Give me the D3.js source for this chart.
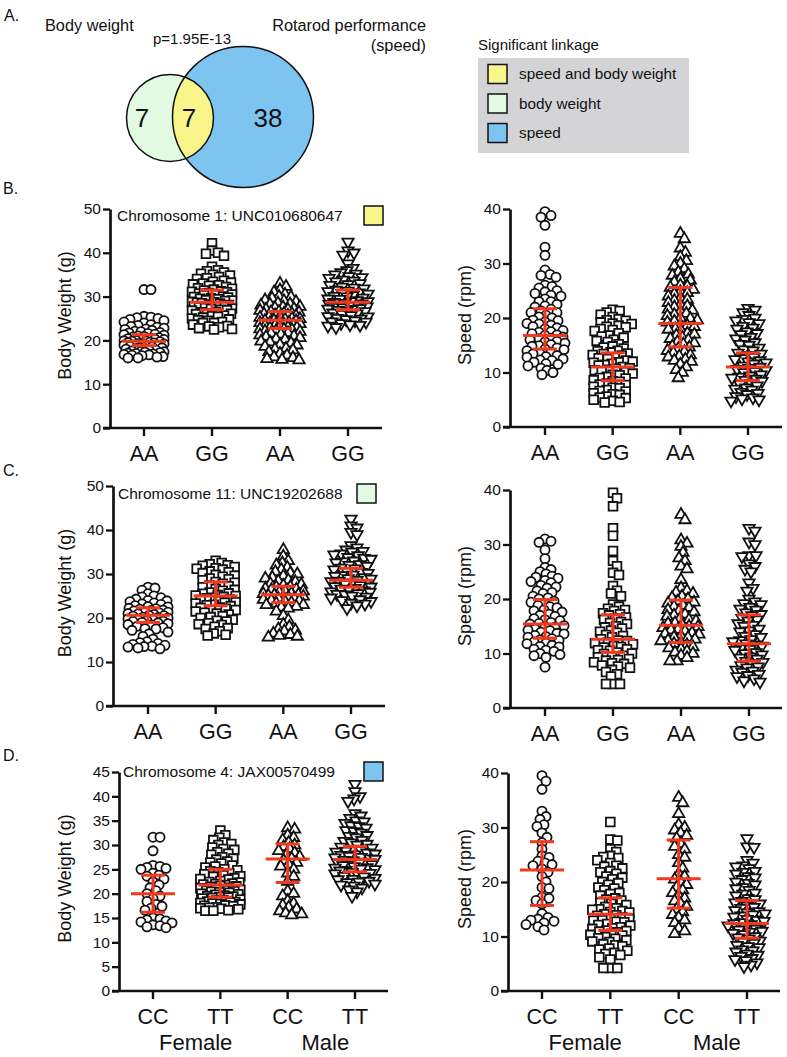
<!DOCTYPE html>
<html><head><meta charset="utf-8">
<script src="https://cdn.jsdelivr.net/npm/d3@7"></script>
<style>body{margin:0;background:#fff}svg{display:block}text{font-family:"Liberation Sans",Arial,sans-serif;fill:#111}</style>
</head><body>
<svg id="fig" width="787" height="1057"></svg>
<script>
// ---------- Venn / legend data ----------
const vennCounts = [7, 7, 38]; // body weight only, both, speed only
const legendLabels = ["speed and body weight", "body weight", "speed"];
const legendColors = ["#f8f68a", "#e2fae2", "#7dc4f1"];

// ---------- category labels ----------
const genoB = ["AA", "GG", "AA", "GG"];
const genoC = ["AA", "GG", "AA", "GG"];
const genoD = ["CC", "TT", "CC", "TT"];
const sexLabels = ["Female", "Male"];
const markerShapes = ["circle", "square", "triangle", "triangleDown"];

// ---------- B: Chromosome 1 ----------
const bW_AA_F = [31.6,31.6,25.5,25.3,25.2,24.8,24.5,24.0,23.6,23.2,23.0,22.8,22.5,22.3,22.0,21.8,21.6,21.4,21.2,21.0,20.8,20.6,20.5,20.3,20.1,20.0,19.9,19.8,19.7,19.6,19.5,19.3,19.2,19.0,18.9,18.8,18.6,18.5,18.3,18.2,18.0,17.8,17.6,17.5,17.3,17.1,17.0,16.9,16.8,16.6,16.5,16.3,16.2,16.0,16.0,
  23.4,22.6,22.1,21.7,21.3,20.9,20.4,20.2,19.9,19.4,19.1,18.7,18.4,18.1,17.7,17.4,17.2,16.7,25.0,24.2];
const bW_GG_F = [42.2,40.5,40.0,39.8,39.3,36.8,36.0,35.5,35.2,34.8,34.5,34.0,33.6,33.2,32.8,32.5,32.2,31.9,31.6,31.4,31.2,31.0,30.7,30.5,30.3,30.0,29.8,29.6,29.4,29.2,29.0,28.8,28.7,28.6,28.4,28.2,28.0,27.8,27.6,27.4,27.2,27.0,26.8,26.5,26.2,26.0,25.7,25.4,25.0,24.8,24.5,24.2,24.0,23.6,23.3,23.0,22.8,22.6,22.5,
  35.8,35.0,34.2,33.4,32.6,31.8,31.1,30.4,29.9,29.5,29.1,28.5,28.1,27.7,27.3,26.9,26.4,26.1,25.5,25.2,24.6,24.0,23.2,33.0,30.8];
const bW_AA_M = [33.0,32.3,31.5,31.0,30.5,30.0,29.6,29.2,28.8,28.5,28.2,28.0,27.7,27.4,27.2,27.0,26.8,26.6,26.4,26.2,26.0,25.8,25.6,25.4,25.2,25.0,24.8,24.6,24.5,24.3,24.1,24.0,23.8,23.6,23.4,23.2,23.0,22.8,22.6,22.4,22.2,22.0,21.7,21.4,21.0,20.6,20.2,19.8,19.4,19.0,18.6,18.2,17.8,17.4,17.0,16.6,16.2,15.8,15.6,15.5,
  29.9,29.0,28.3,27.6,27.1,26.5,26.1,25.7,25.3,24.9,24.4,24.0,23.7,23.3,22.9,22.5,22.1,21.6,21.2,20.8,20.3,19.6,18.9,18.0,16.0];
const bW_GG_M = [42.5,40.5,40.0,39.5,37.5,36.5,36.0,35.5,35.0,34.6,34.2,33.8,33.4,33.0,32.6,32.2,31.8,31.5,31.2,30.9,30.6,30.3,30.0,29.7,29.4,29.1,28.9,28.7,28.5,28.3,28.1,27.9,27.7,27.5,27.3,27.1,26.9,26.6,26.3,26.0,25.7,25.4,25.1,24.8,24.5,24.2,23.9,23.6,23.3,23.0,
  35.2,34.4,33.6,32.8,32.0,31.3,30.8,30.1,29.5,28.9,28.4,28.0,27.6,27.2,26.7,26.1,25.5,24.9,24.3,23.5];
const bW_summary = [[19.8,18.8,21.3],[28.7,27.0,31.5],[24.6,22.7,26.6],[28.7,27.0,31.5]]; // [center, low, high]

const bS_AA_F = [39.5,38.5,38.8,37.0,33.0,31.5,28.8,28.0,27.5,27.8,26.0,25.8,25.5,25.0,24.8,24.5,24.0,23.5,23.0,22.5,22.0,21.6,21.3,21.0,20.5,20.0,19.6,19.3,19.0,18.7,18.4,18.0,17.7,17.4,17.1,16.8,16.5,16.2,16.0,15.7,15.4,15.1,14.8,14.5,14.2,14.0,13.7,13.4,13.1,12.8,12.5,12.2,11.9,11.5,11.2,10.8,10.4,10.0,9.6,
  24.2,23.0,22.2,21.0,20.2,19.5,18.9,18.2,17.5,16.9,16.3,15.6,14.9,14.3,13.5,12.9,12.3,11.6];
const bS_GG_F = [21.5,21.3,21.0,20.6,20.2,19.8,19.5,19.2,18.9,18.6,18.3,18.0,17.6,17.2,16.8,16.4,16.0,15.6,15.2,14.8,14.4,14.0,13.7,13.4,13.1,12.8,12.5,12.2,11.9,11.6,11.3,11.0,10.7,10.4,10.1,9.8,9.5,9.2,8.9,8.6,8.3,8.0,7.7,7.4,7.1,6.8,6.5,6.2,5.9,5.6,5.3,5.0,4.8,4.6,4.5,
  19.6,19.0,18.4,17.8,16.6,15.8,14.6,13.9,13.2,12.6,12.0,11.4,10.8,10.2,9.6,9.0,8.4,7.8,7.2,6.6,6.0,5.4,10.5,11.8,13.5];
const bS_AA_M = [35.5,34.5,32.8,32.0,31.2,30.5,30.0,29.5,29.0,28.4,27.8,27.2,26.6,26.0,25.6,25.2,24.8,24.4,24.0,23.6,23.2,22.8,22.4,22.0,21.6,21.2,20.8,20.4,20.0,19.6,19.2,18.8,18.4,18.0,17.6,17.2,16.8,16.4,16.0,15.6,15.2,14.8,14.4,14.0,13.6,13.2,12.8,12.4,12.0,11.5,11.0,10.5,10.0,9.0,
  28.0,26.9,25.8,24.6,23.4,22.2,21.4,20.6,19.9,19.4,18.6,17.9,17.0,16.2,15.4,14.6,13.8,13.0,12.2];
const bS_GG_M = [21.8,21.5,21.0,20.5,20.0,19.5,19.0,18.5,18.0,17.5,17.0,16.5,16.0,15.5,15.0,14.5,14.0,13.6,13.2,12.8,12.4,12.0,11.6,11.2,10.8,10.4,10.0,9.6,9.2,8.8,8.4,8.0,7.6,7.2,6.8,6.4,6.0,5.6,5.2,5.0,4.8,
  19.8,19.2,18.2,17.2,16.2,15.2,14.2,13.4,12.6,11.8,11.0,10.2,9.4,8.6,7.8,7.0,6.2,5.4,12.2,10.6,9.0];
const bS_summary = [[16.8,14.3,21.7],[11.0,8.5,13.6],[19.0,14.7,25.6],[11.0,8.5,13.6]];

// ---------- C: Chromosome 11 ----------
const cW_AA_F = [27.0,26.8,26.3,25.5,25.0,24.6,24.3,24.0,23.7,23.4,23.1,22.8,22.5,22.2,22.0,21.8,21.6,21.4,21.2,21.0,20.8,20.6,20.4,20.2,20.0,19.8,19.6,19.4,19.2,19.0,18.7,18.4,18.1,17.8,17.5,17.2,16.8,16.4,15.8,15.2,14.6,14.4,14.2,13.8,13.6,13.4,13.2,13.0,
  24.8,23.9,23.2,22.6,22.1,21.7,21.3,20.9,20.5,20.1,19.7,19.3,18.9,18.5,17.6,14.0,13.5];
const cW_GG_F = [33.0,32.5,32.2,31.9,31.6,31.3,31.0,30.6,30.2,29.8,29.4,29.0,28.6,28.2,27.8,27.4,27.0,26.6,26.2,25.8,25.5,25.2,25.0,24.8,24.5,24.2,23.9,23.6,23.3,23.0,22.7,22.4,22.1,21.8,21.5,21.2,20.8,20.4,20.0,19.6,19.2,18.8,18.4,18.0,17.5,17.0,16.5,16.0,
  32.0,31.2,30.4,29.6,28.8,28.0,27.2,26.4,25.6,25.1,24.6,24.1,23.5,22.9,22.3,21.7,21.0,20.2,19.4,18.6,17.7,16.2];
const cW_AA_M = [35.5,34.0,33.0,32.5,32.0,31.5,31.0,30.5,30.0,29.5,29.0,28.6,28.2,27.8,27.4,27.0,26.7,26.4,26.1,25.8,25.5,25.3,25.1,24.9,24.7,24.5,24.2,23.9,23.6,23.3,23.0,22.6,22.2,21.5,20.5,19.5,18.5,18.0,17.5,17.0,16.5,16.0,15.8,15.6,
  30.2,29.2,28.4,27.6,27.1,26.5,26.0,25.6,25.2,24.8,24.4,24.0,23.5,23.0,22.4,17.2,16.2];
const cW_GG_M = [42.5,41.0,40.5,39.5,39.0,36.5,36.0,35.5,35.0,34.6,34.2,33.8,33.4,33.0,32.6,32.2,31.8,31.4,31.0,30.6,30.2,29.8,29.5,29.2,28.9,28.6,28.3,28.0,27.7,27.4,27.1,26.8,26.5,26.2,25.9,25.6,25.3,25.0,24.6,24.2,23.8,23.4,22.8,22.2,
  35.2,34.4,33.6,32.8,32.0,31.2,30.4,29.7,29.0,28.4,27.8,27.2,26.6,26.0,25.4,24.8,24.0,23.2];
const cW_summary = [[20.6,19.0,22.3],[25.0,22.8,28.2],[25.3,23.5,27.2],[28.6,27.0,31.3]];

const cS_AA_F = [31.0,30.6,30.4,29.0,27.4,25.8,25.4,25.0,24.6,24.2,23.8,23.4,23.0,22.5,22.0,21.5,21.0,20.5,20.0,19.6,19.2,18.8,18.4,18.0,17.6,17.2,16.8,16.4,16.0,15.7,15.4,15.1,14.8,14.5,14.2,13.9,13.6,13.3,13.0,12.7,12.4,12.1,11.8,11.5,11.2,10.8,10.4,10.0,9.6,9.3,7.5,
  24.0,23.2,22.2,21.2,20.2,19.4,18.6,17.8,17.0,16.2,15.5,14.9,14.3,13.7,13.1,12.5,11.9,11.3,10.6,9.8];
const cS_GG_F = [39.5,38.5,37.0,33.0,31.6,28.8,27.0,26.0,24.8,24.4,22.4,21.5,21.0,20.5,19.0,18.6,18.2,17.8,17.4,17.0,16.6,16.2,15.8,15.4,15.0,14.6,14.2,13.8,13.4,13.0,12.6,12.3,12.0,11.7,11.4,11.1,10.8,10.5,10.2,9.9,9.6,9.3,9.0,8.7,8.4,8.1,7.8,7.4,7.0,6.6,6.2,5.8,4.4,4.4,4.4,
  18.0,17.2,16.4,15.6,14.8,14.0,13.2,12.4,11.9,11.2,10.6,10.0,9.4,8.8,8.2,7.6];
const cS_AA_M = [35.5,34.5,30.8,30.2,29.6,28.5,27.5,27.0,26.0,25.5,23.5,22.0,21.5,21.0,20.5,20.0,19.6,19.2,18.8,18.4,18.0,17.6,17.2,16.8,16.4,16.0,15.6,15.3,15.0,14.7,14.4,14.1,13.8,13.5,13.2,12.9,12.6,12.3,12.0,11.6,11.2,10.8,10.4,10.0,9.6,9.2,8.6,8.6,
  21.2,20.2,19.4,18.6,17.8,17.0,16.2,15.5,14.9,14.3,13.6,13.0,12.4,11.8,11.0,10.2];
const cS_GG_M = [33.0,32.5,30.5,30.0,28.0,28.0,27.8,26.5,26.0,25.5,25.0,23.0,22.0,21.5,20.0,19.5,19.0,18.5,18.0,17.5,17.0,16.5,16.0,15.5,15.0,14.5,14.0,13.5,13.0,12.6,12.2,11.8,11.4,11.0,10.6,10.2,9.8,9.4,9.0,8.6,8.2,7.8,7.4,7.0,6.6,6.2,5.8,5.4,5.0,4.8,
  19.2,18.2,17.2,16.2,15.2,14.2,13.2,12.4,11.6,10.8,10.0,9.2,8.4,7.6,6.8,6.0];
const cS_summary = [[15.4,12.8,19.9],[12.6,10.2,17.1],[15.2,12.0,19.8],[11.8,8.6,17.1]];

// ---------- D: Chromosome 4 ----------
const dW_CC_F = [31.6,31.6,28.8,25.8,25.6,25.4,25.2,25.0,24.2,23.8,23.6,23.0,22.4,21.8,21.2,20.6,20.0,19.5,19.0,18.4,17.8,17.4,17.0,16.6,15.0,14.8,14.6,14.4,14.2,14.0,13.6,13.4,13.2,13.0];
const dW_TT_F = [33.0,32.0,31.5,31.0,30.5,30.0,29.5,29.0,28.5,28.0,27.5,27.0,26.6,26.2,25.8,25.4,25.0,24.6,24.2,23.8,23.5,23.2,22.9,22.6,22.3,22.0,21.8,21.6,21.4,21.2,21.0,20.8,20.6,20.4,20.2,20.0,19.8,19.6,19.4,19.2,19.0,18.8,18.6,18.4,18.2,18.0,17.8,17.6,17.4,17.2,17.0,16.8,16.6,16.5,16.5,
  30.2,29.2,28.2,27.2,26.4,25.6,24.8,24.4,24.0,23.6,23.0,22.4,21.9,21.5,21.1,20.7,20.3,19.9,19.5,19.1,18.7,18.3,17.9,17.5,17.1,16.9,22.1,20.5,19.3,18.1];
const dW_CC_M = [33.5,33.2,32.0,31.5,31.0,30.5,30.0,29.6,29.2,28.8,28.4,28.0,27.6,27.2,26.8,26.4,26.0,25.6,25.0,24.2,23.5,22.5,20.5,20.0,19.5,18.5,18.0,17.6,17.2,16.8,16.4,16.0,15.8,15.6];
const dW_TT_M = [42.5,41.0,40.0,39.5,39.0,36.5,36.0,35.5,35.0,34.5,34.0,33.5,33.0,32.5,32.0,31.5,31.0,30.5,30.0,29.6,29.2,28.8,28.4,28.0,27.7,27.4,27.1,26.8,26.5,26.2,25.9,25.6,25.3,25.0,24.7,24.4,24.1,23.8,23.5,23.2,22.9,22.6,22.3,22.0,21.6,21.2,20.8,20.4,19.5,
  34.8,33.8,32.8,31.8,30.8,30.2,29.4,28.6,28.2,27.5,27.2,26.9,26.3,26.0,25.4,24.8,24.2,23.6,23.0,22.4,21.8,28.9,27.9,25.1,25.8];
const dW_summary = [[20.0,16.2,23.8],[21.8,19.3,25.0],[27.1,22.3,30.2],[27.0,24.5,29.7]];

const dS_CC_F = [39.5,38.5,37.0,33.0,32.0,31.5,30.2,30.5,29.0,28.2,27.2,26.0,24.8,24.5,23.8,23.5,23.2,23.0,22.4,21.8,21.0,20.0,19.0,18.8,17.2,17.0,16.6,16.0,14.2,13.5,13.2,13.0,12.8,12.5,12.2,11.8,11.2];
const dS_TT_F = [31.0,27.8,27.6,26.0,25.5,24.8,24.4,24.0,23.5,23.0,22.5,22.0,21.5,21.0,20.5,20.0,19.5,19.0,18.5,18.0,17.5,17.0,16.6,16.2,15.8,15.4,15.0,14.7,14.4,14.1,13.8,13.5,13.2,12.9,12.6,12.3,12.0,11.7,11.4,11.1,10.8,10.5,10.2,9.9,9.6,9.3,9.0,8.6,8.2,7.8,7.4,7.0,6.6,6.2,5.8,4.2,4.2,4.2,
  24.6,22.8,21.8,20.8,19.8,18.8,17.8,16.8,16.0,15.2,14.5,13.9,13.3,12.7,12.1,11.5,10.9,10.3,9.7,9.1,8.4,7.6,6.8,14.9,13.0,11.0];
const dS_CC_M = [35.5,34.5,32.5,30.5,30.0,29.5,29.0,28.5,28.0,27.0,26.5,26.0,25.0,24.5,23.5,22.5,21.5,21.0,20.5,20.0,19.5,19.0,18.5,18.0,17.5,17.0,16.5,16.0,15.5,15.0,14.5,14.0,13.5,13.0,12.5,11.5,11.0,10.5];
const dS_TT_M = [28.0,26.5,26.4,24.0,23.5,23.0,22.5,22.0,21.5,21.0,20.5,20.0,19.5,19.0,18.5,18.0,17.5,17.0,16.5,16.0,15.6,15.2,14.8,14.4,14.0,13.6,13.2,12.8,12.4,12.0,11.6,11.2,10.8,10.4,10.0,9.6,9.2,8.8,8.4,8.0,7.6,7.2,6.8,6.4,6.0,5.6,5.2,4.8,4.5,
  22.8,21.8,20.8,19.8,18.8,17.8,16.8,16.2,15.4,14.6,13.8,13.0,12.2,11.4,10.6,9.8,9.0,8.2,7.4,6.6,5.8,14.2,12.6,11.0];
const dS_summary = [[22.2,15.7,27.4],[14.1,11.1,17.1],[20.6,15.2,27.7],[12.4,9.7,16.6]];

// ---------- chromosome labels ----------
const markerLabels = ["Chromosome 1: UNC010680647", "Chromosome 11: UNC19202688", "Chromosome 4: JAX00570499"];

// ================= drawing =================
const svg = d3.select("#fig");
svg.append("rect").attr("width",787).attr("height",1057).attr("fill","#fff");
const FONT = '"Liberation Sans",Arial,sans-serif';
const RED = "#f2381f";

// ---- Panel A: Venn ----
const venn = svg.append("g");
svg.append("text").attr("x",4).attr("y",21).attr("font-size",16).text("A.");
venn.append("text").attr("x",45).attr("y",31).attr("font-size",16.3).text("Body weight");
venn.append("text").attr("x",426).attr("y",31).attr("font-size",16.3).attr("text-anchor","end").text("Rotarod performance");
venn.append("text").attr("x",426).attr("y",51).attr("font-size",16.3).attr("text-anchor","end").text("(speed)");
venn.append("text").attr("x",153).attr("y",44).attr("font-size",15).text("p=1.95E-13");
const small = {cx:170, cy:118, r:43.5}, big = {cx:243, cy:117, r:70.5};
const defs = svg.append("defs");
defs.append("clipPath").attr("id","smallClip").append("circle").attr("cx",small.cx).attr("cy",small.cy).attr("r",small.r);
venn.append("circle").attr("cx",small.cx).attr("cy",small.cy).attr("r",small.r).attr("fill",legendColors[1]);
venn.append("circle").attr("cx",big.cx).attr("cy",big.cy).attr("r",big.r).attr("fill",legendColors[2]);
venn.append("circle").attr("cx",big.cx).attr("cy",big.cy).attr("r",big.r).attr("fill",legendColors[0]).attr("clip-path","url(#smallClip)");
venn.append("circle").attr("cx",small.cx).attr("cy",small.cy).attr("r",small.r).attr("fill","none").attr("stroke","#111").attr("stroke-width",1.5);
venn.append("circle").attr("cx",big.cx).attr("cy",big.cy).attr("r",big.r).attr("fill","none").attr("stroke","#111").attr("stroke-width",1.5);
const vennX = [142, 189, 268];
vennCounts.forEach((c,i)=>venn.append("text").attr("x",vennX[i]).attr("y",127).attr("font-size",26).attr("text-anchor","middle").text(c));

// ---- legend ----
const lg = svg.append("g");
lg.append("text").attr("x",478).attr("y",50).attr("font-size",15).text("Significant linkage");
lg.append("rect").attr("x",478).attr("y",58).attr("width",211).attr("height",95).attr("fill","#d4d4d6");
legendLabels.forEach((l,i)=>{
  const cy = 74 + i*29.5;
  lg.append("rect").attr("x",488).attr("y",cy-9.5).attr("width",19).attr("height",19).attr("fill",legendColors[i]).attr("stroke","#111").attr("stroke-width",1.5);
  lg.append("text").attr("x",519).attr("y",cy+5).attr("font-size",15.3).text(l);
});

// ---- section letters ----
[["B.",194],["C.",476],["D.",761]].forEach(([t,y])=>svg.append("text").attr("x",3).attr("y",y).attr("font-size",16).text(t));

// ---- scatter panels ----
const panels = [
  {groups:[bW_AA_F,bW_GG_F,bW_AA_M,bW_GG_M], summary:bW_summary, cats:genoB, max:50, step:10, title:"Body Weight (g)",
   x0:110, x1:382, c0:144, c1:348, yTop:209, yBot:428, titleX:65, label:0, lx:117, sw:[364,206]},
  {groups:[bS_AA_F,bS_GG_F,bS_AA_M,bS_GG_M], summary:bS_summary, cats:genoB, max:40, step:10, title:"Speed (rpm)",
   x0:510, x1:782, c0:545, c1:748, yTop:209, yBot:427, titleX:465},
  {groups:[cW_AA_F,cW_GG_F,cW_AA_M,cW_GG_M], summary:cW_summary, cats:genoC, max:50, step:10, title:"Body Weight (g)",
   x0:113, x1:385, c0:148, c1:351, yTop:486, yBot:706, titleX:65, label:1, lx:118, sw:[357,484]},
  {groups:[cS_AA_F,cS_GG_F,cS_AA_M,cS_GG_M], summary:cS_summary, cats:genoC, max:40, step:10, title:"Speed (rpm)",
   x0:510, x1:782, c0:545, c1:749, yTop:490, yBot:708, titleX:465},
  {groups:[dW_CC_F,dW_TT_F,dW_CC_M,dW_TT_M], summary:dW_summary, cats:genoD, max:45, step:5, title:"Body Weight (g)",
   x0:119, x1:388, c0:153, c1:355, yTop:772, yBot:991, titleX:65, label:2, lx:123, sw:[364,762], sex:true},
  {groups:[dS_CC_F,dS_TT_F,dS_CC_M,dS_TT_M], summary:dS_summary, cats:genoD, max:40, step:10, title:"Speed (rpm)",
   x0:508, x1:780, c0:542, c1:747, yTop:773, yBot:991, titleX:465, sex:true},
];

const symbolFor = {
  circle: d3.symbol().type(d3.symbolCircle).size(66),
  square: d3.symbol().type(d3.symbolSquare).size(76),
  triangle: d3.symbol().type(d3.symbolTriangle).size(56),
  triangleDown: d3.symbol().type(d3.symbolTriangle).size(56),
};

function swarm(vals, y, maxHalf, minDist){
  const pts = vals.map(v=>({v, y:y(v)})).sort((a,b)=>a.y-b.y);
  const placed = [];
  for (const p of pts){
    let chosen = null, bestOff = 0, bestScore = -1;
    for (let k=0; k<=maxHalf*2; k++){
      const off = k===0 ? 0 : (k%2 ? Math.ceil(k/2) : -Math.ceil(k/2));
      let md = Infinity;
      for (const q of placed){
        const dy = q.y-p.y; if (Math.abs(dy) >= minDist) continue;
        md = Math.min(md, Math.hypot(q.x-off, dy));
      }
      if (md >= minDist){ chosen = off; break; }
      if (md > bestScore){ bestScore = md; bestOff = off; }
    }
    p.x = chosen === null ? bestOff : chosen;
    placed.push(p);
  }
  return pts;
}

panels.forEach(P=>{
  const g = svg.append("g");
  const y = d3.scaleLinear().domain([0,P.max]).range([P.yBot,P.yTop]);
  const x = d3.scalePoint().domain(d3.range(4)).range([P.c0,P.c1]);

  // y axis
  const ya = d3.axisLeft(y).tickValues(d3.range(0,P.max+0.001,P.step)).tickSize(7).tickSizeOuter(0).tickPadding(2);
  const yg = g.append("g").attr("transform",`translate(${P.x0},0)`).call(ya);
  yg.select(".domain").attr("stroke","#111").attr("stroke-width",2.7);
  yg.selectAll(".tick line").attr("stroke","#111").attr("stroke-width",2.3);
  yg.selectAll(".tick text").attr("font-size",15.5).attr("font-family",FONT).attr("fill","#111");

  // x axis line
  g.append("line").attr("x1",P.x0-7).attr("x2",P.x1).attr("y1",P.yBot).attr("y2",P.yBot).attr("stroke","#111").attr("stroke-width",2.7);
  d3.range(4).forEach(i=>{
    g.append("line").attr("x1",x(i)).attr("x2",x(i)).attr("y1",P.yBot).attr("y2",P.yBot+8).attr("stroke","#111").attr("stroke-width",2.4);
    g.append("text").attr("x",x(i)).attr("y",P.yBot+33).attr("font-size",21.5).attr("text-anchor","middle").text(P.cats[i]);
  });
  if (P.sex){
    sexLabels.forEach((s,j)=>{
      const mid = (x(2*j)+x(2*j+1))/2 + (j===0?9:4);
      g.append("text").attr("x",mid).attr("y",P.yBot+59).attr("font-size",22).attr("text-anchor","middle").text(s);
    });
  }
  // title
  const tcy = (P.yTop+P.yBot)/2 - 3;
  g.append("text").attr("transform",`translate(${P.titleX+6},${tcy}) rotate(-90)`).attr("font-size",18).attr("text-anchor","middle").text(P.title);

  // marker label
  if (P.label !== undefined){
    g.append("text").attr("x",P.lx).attr("y",P.sw[1]+15).attr("font-size",15.5).text(markerLabels[P.label]);
    g.append("rect").attr("x",P.sw[0]).attr("y",P.sw[1]).attr("width",19).attr("height",19)
      .attr("fill",legendColors[P.label]).attr("stroke","#111").attr("stroke-width",1.5);
  }

  // points
  P.groups.forEach((vals,i)=>{
    const pts = swarm(vals, y, 20, 6.3);
    const shape = markerShapes[i];
    g.append("g").selectAll("path").data(pts).join("path")
      .attr("d", symbolFor[shape])
      .attr("transform", d=>`translate(${x(i)+d.x},${d.y})${shape==="triangleDown"?" rotate(180)":""}`)
      .attr("fill","#fff").attr("stroke","#111").attr("stroke-width",1.8);
  });
  // error bars
  P.summary.forEach(([c,lo,hi],i)=>{
    const eg = g.append("g").attr("stroke",RED).attr("stroke-width",3);
    eg.append("line").attr("x1",x(i)).attr("x2",x(i)).attr("y1",y(lo)).attr("y2",y(hi));
    eg.append("line").attr("x1",x(i)-22).attr("x2",x(i)+22).attr("y1",y(c)).attr("y2",y(c));
    eg.append("line").attr("x1",x(i)-12).attr("x2",x(i)+12).attr("y1",y(lo)).attr("y2",y(lo));
    eg.append("line").attr("x1",x(i)-12).attr("x2",x(i)+12).attr("y1",y(hi)).attr("y2",y(hi));
  });
});
</script>
</body></html>
